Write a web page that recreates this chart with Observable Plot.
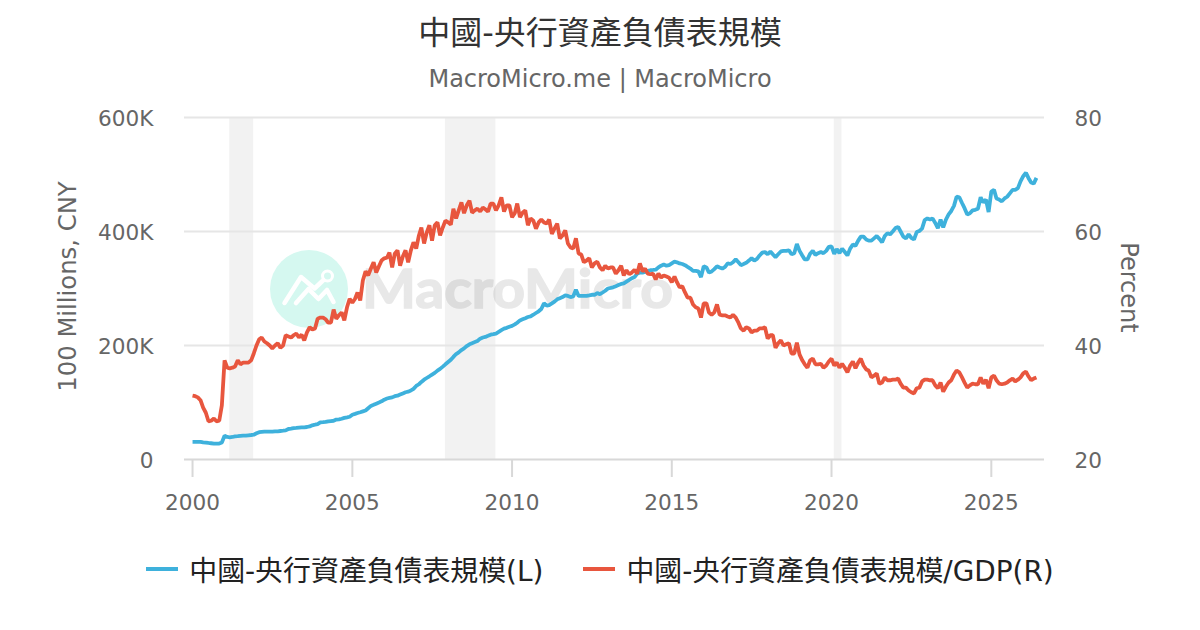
<!DOCTYPE html>
<html><head><meta charset="utf-8">
<script src="https://cdn.jsdelivr.net/npm/d3@7"></script>
<script src="https://cdn.jsdelivr.net/npm/@observablehq/plot@0.6"></script>
<style>
html,body{margin:0;padding:0;background:#fff;width:1200px;height:630px;overflow:hidden}
body{position:relative;font-family:"DejaVu Sans","Noto Sans CJK TC",sans-serif}
#title{position:absolute;left:0;right:0;top:11px;text-align:center;font-size:32px;line-height:44px;color:#333}
#sub{position:absolute;left:0;right:0;top:63px;text-align:center;font-size:24px;line-height:32px;color:#666}
#wm{position:absolute;left:0;top:0;z-index:0}
#chart{position:absolute;left:0;top:0;z-index:1}
#chart svg{background:transparent}
#legend{position:absolute;left:0;right:0;top:547px;height:44px;z-index:2;display:flex;justify-content:center;align-items:center;font-size:27.9px;color:#222}
.sw{display:inline-block;width:32px;height:4px;margin-right:11px}
.it{display:flex;align-items:center;white-space:nowrap}
.it+.it{margin-left:40px}
</style></head><body>
<div id="title"></div><div id="sub"></div>
<svg id="wm" width="1200" height="630"><circle cx="309" cy="289" r="39" fill="#d5f8f0"/>
<path d="M284.5 303 L301 277 L314.5 288.5 L323.5 280" fill="none" stroke="#fff" stroke-width="4.5" stroke-linejoin="round" stroke-linecap="round"/>
<circle cx="327.5" cy="276" r="5" fill="none" stroke="#fff" stroke-width="3"/>
<path d="M296 303 L308.5 289 L318.5 299 L327 290 L333.5 302" fill="none" stroke="#fff" stroke-width="4.5" stroke-linejoin="round" stroke-linecap="round"/>
<text x="362" y="308" font-family="Lato,'DejaVu Sans',sans-serif" font-weight="700" font-size="54" textLength="311" lengthAdjust="spacingAndGlyphs" fill="#e8e8e8" stroke="#e8e8e8" stroke-width="1.5">MacroMicro</text></svg>
<div id="chart"></div><div id="legend"></div>
<script>
const titleText = "中國-央行資產負債表規模";
const subtitleText = "MacroMicro.me | MacroMicro";
const legendLeft = "中國-央行資產負債表規模(L)";
const legendRight = "中國-央行資產負債表規模/GDP(R)";
const yLabelLeft = "100 Millions, CNY";
const yLabelRight = "Percent";
const blue = "#3eb1dc";
const red = "#e8563e";

// Monthly from Jan 2000, 100 millions CNY in thousands (left axis)
const balance = [
31,31,31,31,30,29.5,29,28.5,28,28,28,30,
41.5,39.5,39,39.5,40.5,41,41.5,42,42,42.5,43,43.5,
46,48,48.5,49,49,49,49,49.5,49.5,50,50.5,51,
53.5,54,55,55.5,56,56.5,56.5,57,58,60,61,62,
65,65.5,66,67,67.5,68,70,70.5,71.5,73,74,75,
78.5,80,81.5,83,84.5,86,90,94,96,98,100,102,
105,107,108,109,111,112,114,116,118,119,121,124,
129,132,136,140,143,146,149,152,156,159,163,167,
171,175,180,185,188,192,195,199,202,204,206,208,
212,214,215,217,219,220,221,224,227,229.5,231,233,
234.5,237,240,244,246,248,250,251,254,257,260,264,
274,270,271,274,277,281,283,285,288,287,285,286,
298,287,287,287,287,288,289,289,292,290,293,296,
300,301,302,304,306,308,309,312,315,318,320,326,
328,328,329,331,332,332.5,333,337,340,342,340,341,
344,347,346,344,343,341,338,335,331,331,330,320,
339,337,328,330,334,339,337,335,338,344,343,346,
351,346,341,343,345,349,353,349,352,358,363,364,
360,365,360,355,360,365,366,366,367,360,362,378,
366,358,351,351,361,366,359,362,364,362,366,373,
374,361,369,362,370,364,358,370,377,375,384,391,
391,386,384,384,388,392,387,381,392,397,395,400,
406,408,400,391,388,395,389,386,399,401,405,420,
423,421,423,415,406,421,407,421,430,436,445,461,
460,450,441,430,432,437,438,440,460,451,456,434,
470,473,458,456,453,458,461,467,473,473,476,488,
497,503,494,486,484,494];

// Monthly from Jan 2000, percent of GDP (right axis)
const ratio = [
31.2,31.1,30.9,30.4,29.1,28.2,26.7,26.8,27.2,26.7,26.8,29.5,
37.4,36.1,36,36.1,36.3,37.4,36.7,37,37,37,37.4,38.6,
40,41.1,41.4,40.7,40.4,40,39.5,40,40.4,39.6,40,41.8,
41.6,41.4,41.8,42.1,41.4,41.9,40.9,42.3,43.2,42.8,43,44.7,
44.9,44.9,44.6,44,44,46.3,44.7,45.3,45.8,44.4,46.7,48.2,
47.5,48.2,49.3,47.9,51.4,53,52.3,53.5,54.6,52.8,53.9,54.9,
55.3,55.4,56.3,53.7,56.1,56.7,54,55.6,56.7,54.6,56.7,58.1,
57,59.3,60.7,57.9,59.8,61.1,58.4,61.1,61.6,59.3,60.7,61.9,
61.6,61.2,64,62.3,63.7,65.1,63.2,64.6,65.4,63.3,63.7,64,
63.5,64.2,63.9,63.5,64.9,64.9,63.7,64.6,66,63.5,64.6,64.6,
62.5,63.2,64.9,62.5,63.3,63.7,61.1,62.3,61.9,60.5,61.6,62.1,
61.6,61.4,62.1,59.6,60.5,61.4,58.8,59.3,60.2,57.9,57.2,57,
58.8,56.1,56,54.6,54.9,55.3,53.7,54.4,54.7,53.7,53.2,54,
53.5,53.7,53.7,52.6,53.2,54,52.3,53.2,52.5,52.8,53.3,52.6,
54.4,53,53.5,52.6,52.5,52.6,51.6,52.6,51.9,52.3,52.1,51.9,
51.1,52.1,51.1,50.2,50.4,49.3,48.4,48.4,47.2,46.7,46.5,44.9,
47.4,47.4,45.8,45.4,45.8,47.2,45.4,45.3,45.3,45.1,44.9,45.4,
44.9,44,43,42.6,43.2,43,42.3,42.6,42.6,43,43,43.2,
41.2,41.8,41.8,39.6,40.4,40.9,40,40.2,40.4,38.6,38.6,40.5,
38.4,37.4,36.7,36.1,37.4,37.7,36.7,36.7,36.8,36.1,36.5,37.2,
37.7,36.5,37,36.1,36.8,36.1,35.3,36.5,37.2,36,37,37.7,
36.5,35.8,35.6,34.4,34.7,35.1,33.3,33.5,34.4,33.9,33.9,34,
34,34.2,33.3,32.6,32.6,32.1,31.8,31.6,32.5,32.6,33.7,34,
34,33.9,33.9,33,32.5,33.5,31.9,32.8,33.5,33.9,34.9,35.6,
35.3,34.4,33.5,32.6,33,33.3,33.2,33.2,34.4,33.3,34,32.5,
34.4,34.7,33.9,33.3,33.2,33.3,33.5,33.9,34.2,33.7,34,34.4,
35.1,35.4,34.6,33.9,34.2,34.4];

const bandStart = ["2001-03-01","2007-12-01","2020-02-01"];
const bandEnd = ["2001-11-30","2009-06-30","2020-04-30"];
const leftTicks = [0,200,400,600];
const rightTicks = [20,40,60,80];
const yearTicks = [2000,2005,2010,2015,2020,2025];

const month = i => new Date(Date.UTC(2000, i, 1));
const toLeft = p => (p - 20) * 10;   // maps the right axis (20–80) onto the left axis (0–600)
const balanceRows = balance.map((v,i)=>({date:month(i),v}));
const ratioRows = ratio.map((p,i)=>({date:month(i),v:toLeft(p)}));
const bands = bandStart.map((s,i)=>({a:new Date(s),b:new Date(bandEnd[i])}));

document.getElementById("title").textContent = titleText;
document.getElementById("sub").textContent = subtitleText;
document.getElementById("legend").innerHTML =
 `<span class="it"><span class="sw" style="background:${blue}"></span>${legendLeft}</span>`+
 `<span class="it"><span class="sw" style="background:${red}"></span>${legendRight}</span>`;

const chart = Plot.plot({
  width:1200, height:530, marginTop:117, marginBottom:71, marginLeft:184, marginRight:156,
  style:{background:"transparent", fontFamily:'"DejaVu Sans",sans-serif', overflow:"visible"},
  x:{type:"utc", domain:[new Date(Date.UTC(1999,9,1)), new Date(Date.UTC(2026,8,1))]},
  y:{domain:[0,600]},
  marks:[
    Plot.rectX(bands,{x1:"a",x2:"b",y1:0,y2:600,fill:"#000",fillOpacity:0.05}),
    Plot.ruleY(leftTicks.slice(1),{stroke:"#e6e6e6",strokeWidth:2}),
    Plot.axisX({ticks:yearTicks.map(y=>new Date(Date.UTC(y,0,1))),tickFormat:d=>String(d.getUTCFullYear()),tickSize:18,tickPadding:17,label:null,fontSize:21.6,color:"#d8d8d8",stroke:"#d8d8d8",strokeWidth:2,fill:"#666",textStroke:"none"}),
    Plot.ruleY([0],{stroke:"#d8d8d8",strokeWidth:2}),
    Plot.axisY({anchor:"left",ticks:leftTicks,tickSize:0,tickPadding:31,tickFormat:d=>d?d+"K":"0",label:null,fontSize:21.6,fill:"#666",dy:1.5}),
    Plot.axisY({anchor:"right",ticks:leftTicks,tickSize:0,tickPadding:30,tickFormat:(d,i)=>String(rightTicks[i]),label:null,fontSize:21.6,fill:"#666",dy:1.5}),
    Plot.text([yLabelLeft],{frameAnchor:"left",textAnchor:"middle",dx:-116,dy:-2,rotate:-90,fontSize:24.3,fill:"#666"}),
    Plot.text([yLabelRight],{frameAnchor:"right",textAnchor:"middle",dx:84,dy:-1,rotate:90,fontSize:24,fill:"#666"}),
    Plot.lineY(balanceRows,{x:"date",y:"v",stroke:blue,strokeWidth:3.8,curve:"linear",strokeLinejoin:"miter",strokeLinecap:"butt"}),
    Plot.lineY(ratioRows,{x:"date",y:"v",stroke:red,strokeWidth:3.8,curve:"linear",strokeLinejoin:"miter",strokeLinecap:"butt"})
  ]
});
document.getElementById("chart").appendChild(chart);
</script></body></html>
